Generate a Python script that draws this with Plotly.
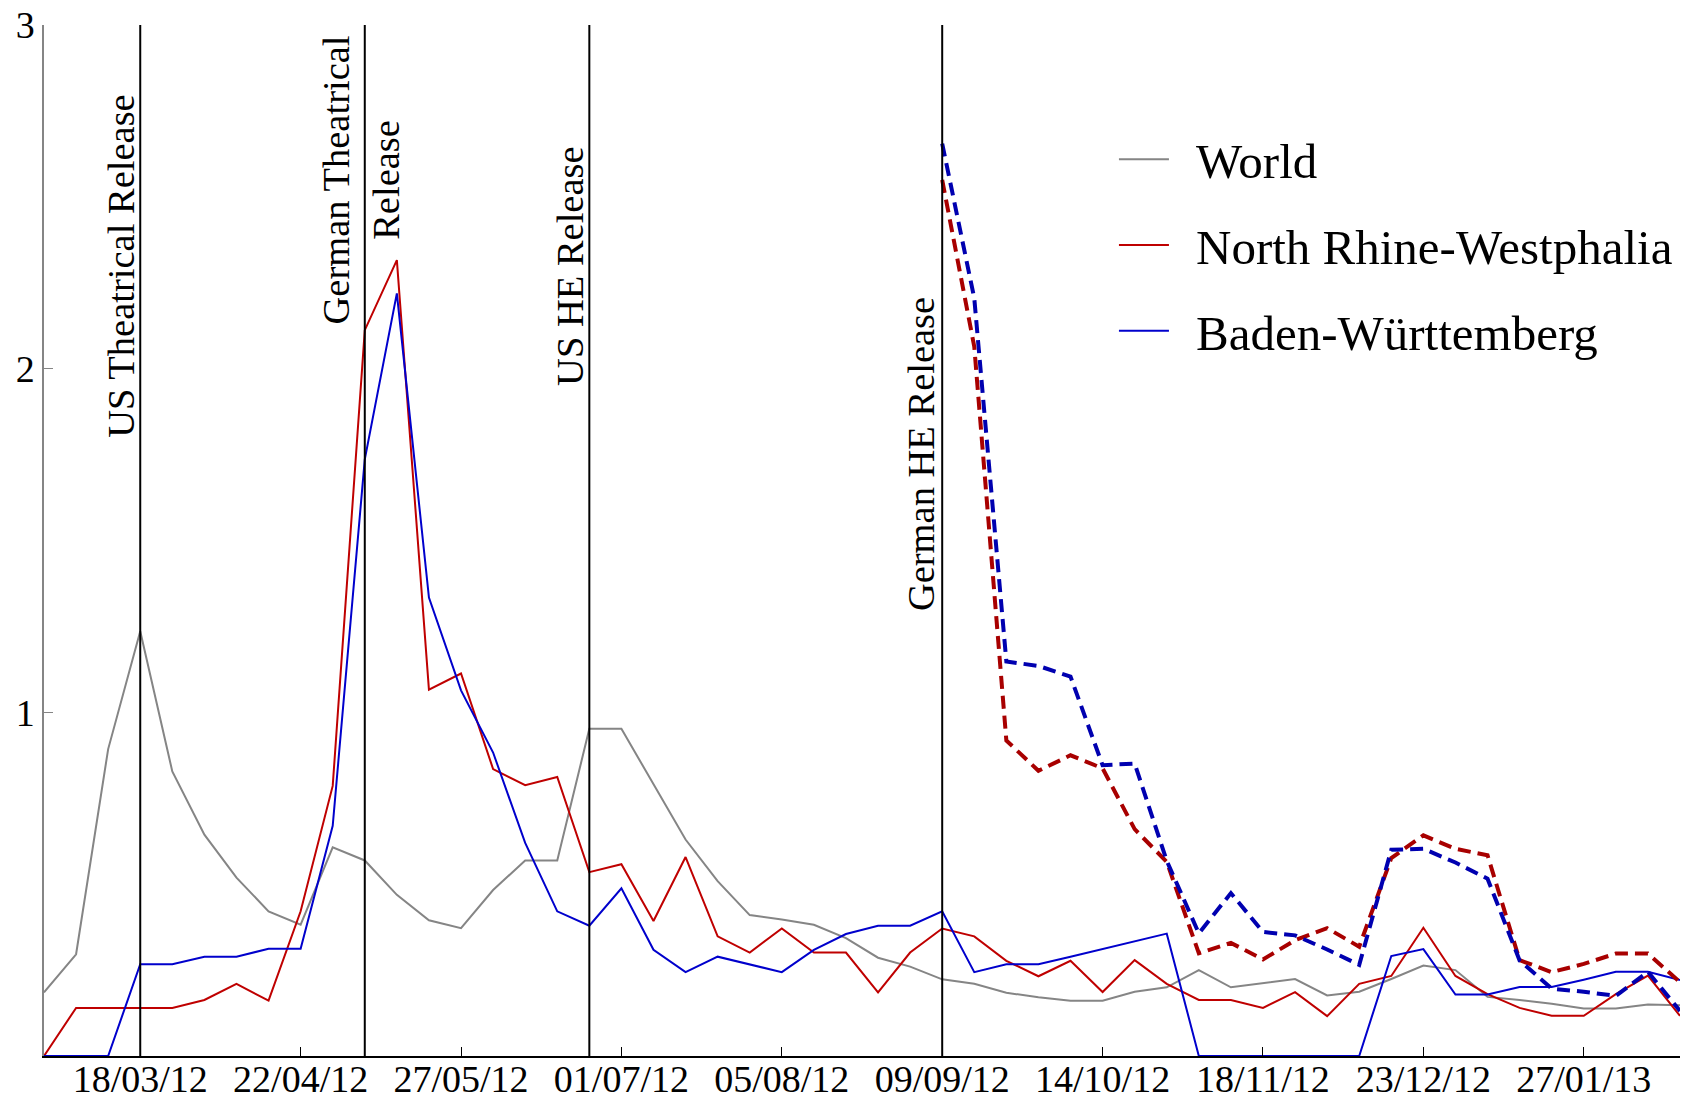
import pandas as pd
import plotly.graph_objects as go

# Weekly observations, first week starting 26/02/2012
weeks = pd.date_range("2012-02-26", periods=52, freq="7D")

world = [0.185, 0.296, 0.893, 1.236, 0.828, 0.644, 0.519, 0.421, 0.382, 0.607,
         0.569, 0.469, 0.395, 0.372, 0.483, 0.569, 0.569, 0.952, 0.952, 0.789,
         0.630, 0.509, 0.410, 0.397, 0.382, 0.343, 0.286, 0.260, 0.223, 0.210,
         0.184, 0.171, 0.161, 0.161, 0.187, 0.200, 0.250, 0.200, 0.213, 0.224,
         0.176, 0.187, 0.224, 0.263, 0.250, 0.172, 0.163, 0.152, 0.138, 0.138,
         0.150, 0.148]

nrw = [0.0, 0.14, 0.14, 0.14, 0.14, 0.163, 0.21, 0.161, 0.421, 0.786,
       2.112, 2.316, 1.066, 1.113, 0.835, 0.788, 0.812, 0.535, 0.558, 0.393,
       0.579, 0.348, 0.301, 0.371, 0.301, 0.301, 0.185, 0.301, 0.371, 0.348,
       0.277, 0.232, 0.277, 0.186, 0.279, 0.21, 0.163, 0.163, 0.14, 0.186,
       0.116, 0.21, 0.233, 0.373, 0.233, 0.18, 0.14, 0.117, 0.117, 0.18,
       0.234, 0.117]

bw = [0.0, 0.0, 0.0, 0.267, 0.267, 0.289, 0.289, 0.312, 0.312, 0.670,
      1.736, 2.219, 1.334, 1.064, 0.883, 0.620, 0.421, 0.379, 0.488, 0.309,
      0.244, 0.289, 0.267, 0.244, 0.309, 0.355, 0.379, 0.379, 0.421, 0.244,
      0.267, 0.267, 0.289, 0.311, 0.333, 0.356, 0.0, 0.0, 0.0, 0.0,
      0.0, 0.0, 0.291, 0.311, 0.179, 0.179, 0.201, 0.201, 0.222, 0.245,
      0.245, 0.221]

# Home-entertainment series, available from the German HE release onwards
nrw_he = [None] * 28 + [2.549, 2.064, 0.918, 0.830, 0.875, 0.837, 0.660, 0.565,
                        0.299, 0.329, 0.281, 0.337, 0.372, 0.318, 0.576, 0.642,
                        0.603, 0.584, 0.279, 0.244, 0.268, 0.298, 0.298, 0.215]
bw_he = [None] * 28 + [2.655, 2.205, 1.148, 1.135, 1.104, 0.846, 0.851, 0.568,
                       0.357, 0.474, 0.361, 0.351, 0.310, 0.265, 0.600, 0.603,
                       0.563, 0.516, 0.278, 0.196, 0.187, 0.175, 0.245, 0.131]

tick_labels = ["18/03/12", "22/04/12", "27/05/12", "01/07/12", "05/08/12",
               "09/09/12", "14/10/12", "18/11/12", "23/12/12", "27/01/13"]
tick_weeks = [3, 8, 13, 18, 23, 28, 33, 38, 43, 48]

events = ["US Theatrical Release", "German Theatrical<br>Release",
          "US HE Release", "German HE Release"]
event_weeks = [3, 10, 17, 28]
event_label_y = [2.30, 2.55, 2.30, 1.752]
event_label_shift = [-20, -4, -20, -21]

FONT = "Liberation Serif, Times New Roman, serif"
GRAY = "#858585"
RED = "#bf0000"
BLUE = "#0000cc"
RED_D = "#a80000"
BLUE_D = "#0000b0"
PAD = "\u00a0\u2009"  # small gap between legend sample and label

fig = go.Figure()
fig.add_trace(go.Scatter(x=weeks, y=world, mode="lines", name=PAD + "World",
                         line=dict(color=GRAY, width=2), legendgroup="a"))
fig.add_trace(go.Scatter(x=weeks, y=nrw, mode="lines", name=PAD + "North Rhine-Westphalia",
                         line=dict(color=RED, width=2), legendgroup="b"))
fig.add_trace(go.Scatter(x=weeks, y=bw, mode="lines", name=PAD + "Baden-Württemberg",
                         line=dict(color=BLUE, width=2), legendgroup="c"))
fig.add_trace(go.Scatter(x=weeks, y=nrw_he, mode="lines", showlegend=False,
                         line=dict(color=RED_D, width=4, dash="13px,7px")))
fig.add_trace(go.Scatter(x=weeks, y=bw_he, mode="lines", showlegend=False,
                         line=dict(color=BLUE_D, width=4, dash="13px,7px")))

for w, label, ly, sh in zip(event_weeks, events, event_label_y, event_label_shift):
    fig.add_shape(type="line", xref="x", yref="y", x0=weeks[w], x1=weeks[w],
                  y0=0, y1=3, line=dict(color="black", width=2))
    fig.add_annotation(x=weeks[w], y=ly, xref="x", yref="y", text=label,
                       textangle=-90, showarrow=False, xshift=sh,
                       font=dict(family=FONT, size=38.5, color="black"))

fig.update_layout(
    width=1684, height=1099,
    margin=dict(l=44, r=4, t=25, b=43),
    plot_bgcolor="white", paper_bgcolor="white",
    font=dict(family=FONT, size=38, color="black"),
    legend=dict(x=0.654, y=0.907, xanchor="left", yanchor="top",
                font=dict(family=FONT, size=49, color="black"),
                bgcolor="rgba(0,0,0,0)", tracegroupgap=19, itemwidth=50),
    showlegend=True,
)
fig.update_xaxes(
    range=[weeks[0], weeks[-1]], automargin=False,
    tickvals=[weeks[i] for i in tick_weeks], ticktext=tick_labels,
    ticks="inside", ticklen=9, tickcolor="black", tickwidth=1,
    ticklabelstandoff=-11,
    showline=True, linecolor="black", linewidth=1.5,
    showgrid=False, zeroline=False,
    tickfont=dict(family=FONT, size=38, color="black"),
)
fig.update_yaxes(
    range=[0, 3], automargin=False,
    tickvals=[1, 2, 3], ticktext=["1", "2", "3"],
    ticks="inside", ticklen=9, tickcolor=GRAY, tickwidth=1,
    showline=True, linecolor=GRAY, linewidth=1.5,
    showgrid=False, zeroline=False,
    tickfont=dict(family=FONT, size=38, color="black"),
)

fig.write_html("out.html")
